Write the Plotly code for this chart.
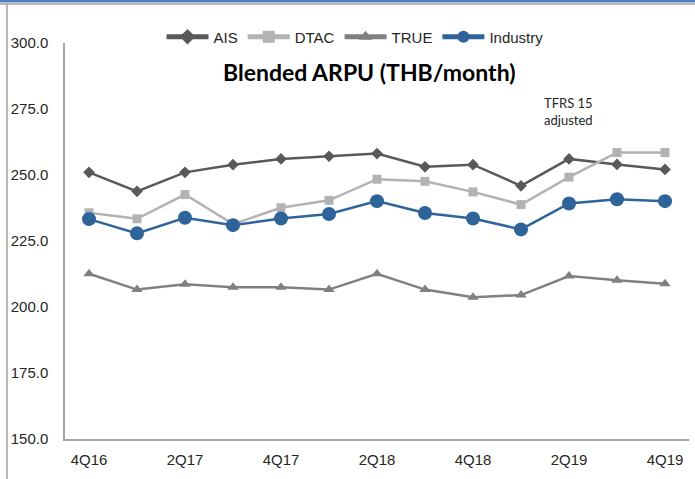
import plotly.graph_objects as go

quarters = ["4Q16", "1Q17", "2Q17", "3Q17", "4Q17", "1Q18", "2Q18",
            "3Q18", "4Q18", "1Q19", "2Q19", "3Q19", "4Q19"]
ais = [251.0, 243.8, 251.0, 253.9, 256.1, 257.1, 258.1, 253.1, 253.9, 245.9, 256.1, 254.0, 252.1]
dtac = [235.7, 233.4, 242.6, 231.4, 237.6, 240.4, 248.4, 247.6, 243.6, 238.8, 249.2, 258.5, 258.5]
true_ = [212.6, 206.6, 208.6, 207.5, 207.5, 206.6, 212.6, 206.6, 203.7, 204.5, 211.7, 210.1, 208.8]
industry = [233.3, 227.9, 233.8, 231.0, 233.5, 235.2, 240.1, 235.6, 233.5, 229.4, 239.2, 240.8, 240.1]
tick_labels = ["4Q16", "2Q17", "4Q17", "2Q18", "4Q18", "2Q19", "4Q19"]
y_ticks = [150, 175, 200, 225, 250, 275, 300]

W, H = 695, 479
L, R, T, B = 65, 6, 43, 40
pw, ph = W - L - R, H - T - B

def px(x):
    return (x - L) / pw

def py(y):
    return (H - B - y) / ph

fig = go.Figure()
fig.add_trace(go.Scatter(x=quarters, y=ais, name="AIS", mode="lines+markers",
                         line=dict(color="#595959", width=2.5),
                         marker=dict(symbol="diamond", size=9, color="#595959")))
fig.add_trace(go.Scatter(x=quarters, y=dtac, name="DTAC", mode="lines+markers",
                         line=dict(color="#b3b3b3", width=2.5),
                         marker=dict(symbol="square", size=9, color="#b3b3b3")))
fig.add_trace(go.Scatter(x=quarters, y=true_, name="TRUE", mode="lines+markers",
                         line=dict(color="#808080", width=2.5),
                         marker=dict(symbol="triangle-up", size=10, color="#808080")))
fig.add_trace(go.Scatter(x=quarters, y=industry, name="Industry", mode="lines+markers",
                         line=dict(color="#2e6499", width=2.5),
                         marker=dict(symbol="circle", size=14, color="#2e6499")))

fig.update_layout(
    width=W, height=H,
    margin=dict(l=L, r=R, t=T, b=B, autoexpand=False),
    paper_bgcolor="white", plot_bgcolor="white",
    font=dict(family="Liberation Sans, Arial", size=15, color="#262626"),
    showlegend=True,
    legend=dict(orientation="h", x=px(355), xanchor="center", y=py(37), yanchor="middle",
                font=dict(size=15, color="#262626"), itemwidth=42, itemsizing="constant",
                bgcolor="rgba(0,0,0,0)", traceorder="normal"),
    xaxis=dict(type="category", categoryorder="array", categoryarray=quarters,
               range=[-0.5, 12.5], tickmode="array", tickvals=tick_labels,
               ticktext=tick_labels, showgrid=False, showline=True,
               linecolor="#a6a6a6", linewidth=1.5, ticks="", ticklabelstandoff=6,
               zeroline=False, automargin=False),
    yaxis=dict(range=[150, 300], tickmode="array", tickvals=y_ticks,
               ticktext=[f"{v:.1f}" for v in y_ticks], showgrid=False,
               showline=True, linecolor="#a6a6a6", linewidth=1.5, ticks="",
               ticklabelstandoff=12, zeroline=False, automargin=False),
)

fig.add_annotation(text="<b>Blended ARPU (THB/month)</b>", xref="paper", yref="paper",
                   x=px(369), y=py(72), xanchor="center", yanchor="middle",
                   showarrow=False, font=dict(family="Lato", size=23, color="#000000"))
fig.add_annotation(text="TFRS 15<br>adjusted", xref="paper", yref="paper",
                   x=px(568), y=py(111), xanchor="center", yanchor="middle",
                   showarrow=False, font=dict(family="Lato", size=13, color="#262626"))

# outer frame decorations
fig.add_shape(type="rect", xref="paper", yref="paper", x0=px(0), x1=px(W),
              y0=py(2.5), y1=py(0), fillcolor="#4f81bd", line=dict(width=0), layer="above")
fig.add_shape(type="line", xref="paper", yref="paper", x0=px(0), x1=px(W),
              y0=py(4), y1=py(4), line=dict(color="#a0a0a0", width=1.5))
fig.add_shape(type="line", xref="paper", yref="paper", x0=px(7), x1=px(7),
              y0=py(4), y1=py(H), line=dict(color="#a0a0a0", width=1.5))

fig.write_html("out.html", config={"displayModeBar": False},
               post_script="document.body.style.margin='0';document.body.style.overflow='hidden';")
